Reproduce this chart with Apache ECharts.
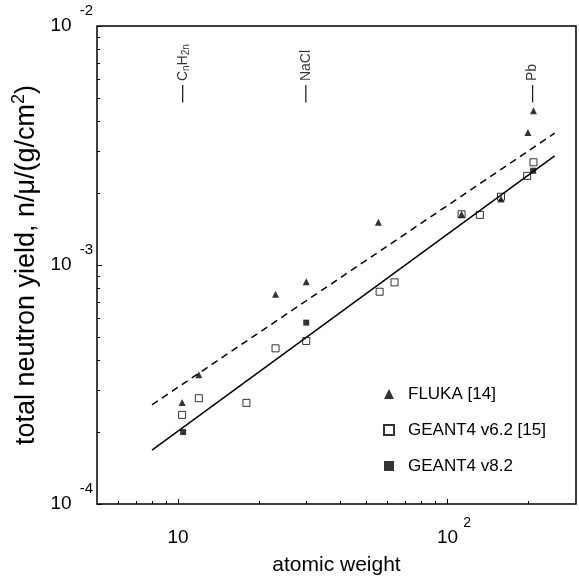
<!DOCTYPE html>
<html>
<head>
<meta charset="utf-8">
<script src="https://cdn.jsdelivr.net/npm/echarts@6.0.0/dist/echarts.min.js"></script>
<style>
html, body { margin: 0; padding: 0; background: #fff; }
#main { width: 579px; height: 581px; }
</style>
</head>
<body>
<div id="main"></div>
<script>
// data
var flukaA = [10.35, 11.94, 23.0, 29.9, 55.4, 112.8, 158, 198.9, 208.6];
var flukaY = [2.66e-4, 3.47e-4, 7.54e-4, 8.51e-4, 1.51e-3, 1.63e-3, 1.89e-3, 3.58e-3, 4.42e-3];

var g462A = [10.35, 11.94, 17.94, 23.0, 29.9, 56.0, 63.6, 112.8, 131.9, 158, 197.6, 208.6];
var g462Y = [2.36e-4, 2.77e-4, 2.65e-4, 4.48e-4, 4.81e-4, 7.73e-4, 8.46e-4, 1.63e-3, 1.62e-3, 1.93e-3, 2.36e-3, 2.69e-3];

var g482A = [10.44, 29.9, 208];
var g482Y = [2.0e-4, 5.74e-4, 2.48e-3];

// fitted lines (end points)
var fitA = [8, 250];
var fitG4 = [1.68e-4, 2.86e-3];
var fitFluka = [2.6e-4, 3.56e-3];

// material marks at the top
var annoText = ['{m|C}{sub|n}{m|H}{sub|2n}', '{m|NaCl}', '{m|Pb}'];
var annoA = [10.4, 29.8, 207];
var annoLo = 4.79e-3;
var annoHi = 5.66e-3;

var xMinor = [6, 7, 8, 9, 20, 30, 40, 50, 60, 70, 80, 90, 200];
var yMinor = [2e-4, 3e-4, 4e-4, 5e-4, 6e-4, 7e-4, 8e-4, 9e-4, 2e-3, 3e-3, 4e-3, 5e-3, 6e-3, 7e-3, 8e-3, 9e-3];

var legendNames = ['FLUKA [14]', 'GEANT4 v6.2 [15]', 'GEANT4 v8.2'];

var font = 'Liberation Sans, Arial, sans-serif';

function pairs(xs, ys) {
    return xs.map(function (x, i) { return [x, ys[i]]; });
}

var series = [
    {
        type: 'line', data: pairs(fitA, fitFluka), symbol: 'none', silent: true,
        lineStyle: { color: '#000', width: 1.5, type: [7, 5] }
    },
    {
        type: 'line', data: pairs(fitA, fitG4), symbol: 'none', silent: true,
        lineStyle: { color: '#000', width: 1.5 }
    },
    {
        name: legendNames[1], type: 'scatter', symbol: 'rect', symbolSize: 7,
        data: pairs(g462A, g462Y),
        itemStyle: { color: '#fff', borderColor: '#000', borderWidth: 1 }
    },
    {
        name: legendNames[0], type: 'scatter', symbol: 'triangle', symbolSize: 7,
        data: pairs(flukaA, flukaY),
        itemStyle: { color: '#000' }
    },
    {
        name: legendNames[2], type: 'scatter', symbol: 'rect', symbolSize: 6,
        data: pairs(g482A, g482Y),
        itemStyle: { color: '#000' }
    }
];

annoA.forEach(function (a, i) {
    series.push({
        type: 'line', data: [[a, annoLo], [a, annoHi]], symbol: 'none', silent: true,
        lineStyle: { color: '#222', width: 1.3 }
    });
    series.push({
        type: 'scatter', data: [[a, annoHi]], symbolSize: 0, silent: true,
        label: {
            show: true, position: 'top', distance: 4, rotate: 90,
            align: 'left', verticalAlign: 'middle',
            formatter: annoText[i],
            rich: {
                m: { fontSize: 14, color: '#000', fontFamily: font },
                sub: { fontSize: 10, color: '#000', fontFamily: font, padding: [8, 0, 0, 0] }
            }
        }
    });
});

var option = {
    animation: false,
    backgroundColor: '#fff',
    grid: {
        left: 97, top: 26, right: 3, bottom: 77,
        show: true, borderColor: '#000', borderWidth: 1.5,
        outerBoundsMode: 'none'
    },
    legend: {
        data: legendNames,
        orient: 'vertical',
        left: 378, top: 380,
        itemWidth: 10, itemHeight: 10, itemGap: 18,
        textStyle: { fontSize: 17, color: '#000', fontFamily: font, lineHeight: 18, padding: [0, 0, 0, 9] }
    },
    xAxis: [
        {
            type: 'log', logBase: 10, min: 5, max: 300,
            name: 'atomic weight', nameLocation: 'middle', nameGap: 51,
            nameTextStyle: { fontSize: 21, color: '#000', fontFamily: font },
            axisLine: { show: false },
            splitLine: { show: false },
            axisTick: { show: true, inside: true, length: 5, lineStyle: { color: '#000', width: 1 } },
            axisLabel: {
                margin: 12, showMinLabel: false, showMaxLabel: false,
                formatter: function (v) {
                    var e = Math.round(Math.log10(v));
                    return '{p| }{b|10}{s|' + (e === 1 ? ' ' : e) + '}';
                },
                rich: {
                    p: { width: 13, fontSize: 14 },
                    b: { fontSize: 19, color: '#000', fontFamily: font },
                    s: { fontSize: 14, width: 8, color: '#000', fontFamily: font, padding: [0, 0, 29, 5] }
                }
            }
        },
        {
            type: 'log', logBase: 10, min: 5, max: 300, position: 'bottom',
            axisLine: { show: false }, splitLine: { show: false }, axisLabel: { show: false },
            axisTick: { show: true, inside: true, length: 3, customValues: xMinor, lineStyle: { color: '#000', width: 1 } }
        }
    ],
    yAxis: [
        {
            type: 'log', logBase: 10, min: 1e-4, max: 1e-2,
            name: 'total neutron yield, n/\u03bc/(g/cm{sup|2})',
            nameLocation: 'middle', nameRotate: 90, nameGap: 47,
            nameTextStyle: {
                fontSize: 27, color: '#000', fontFamily: font,
                rich: { sup: { fontSize: 18, color: '#000', fontFamily: font, padding: [0, 0, 14, 0] } }
            },
            axisLine: { show: false },
            splitLine: { show: false },
            axisTick: { show: true, inside: true, length: 5, lineStyle: { color: '#000', width: 1 } },
            axisLabel: {
                margin: 4,
                formatter: function (v) {
                    return '{b|10}{s|' + Math.round(Math.log10(v)) + '}';
                },
                rich: {
                    b: { fontSize: 19, color: '#000', fontFamily: font },
                    s: { fontSize: 15, color: '#000', fontFamily: font, padding: [0, 0, 30, 8] }
                }
            }
        },
        {
            type: 'log', logBase: 10, min: 1e-4, max: 1e-2, position: 'left',
            axisLine: { show: false }, splitLine: { show: false }, axisLabel: { show: false },
            axisTick: { show: true, inside: true, length: 3, customValues: yMinor, lineStyle: { color: '#000', width: 1 } }
        }
    ],
    series: series
};

var chart = echarts.init(document.getElementById('main'));
chart.setOption(option);
</script>
</body>
</html>
